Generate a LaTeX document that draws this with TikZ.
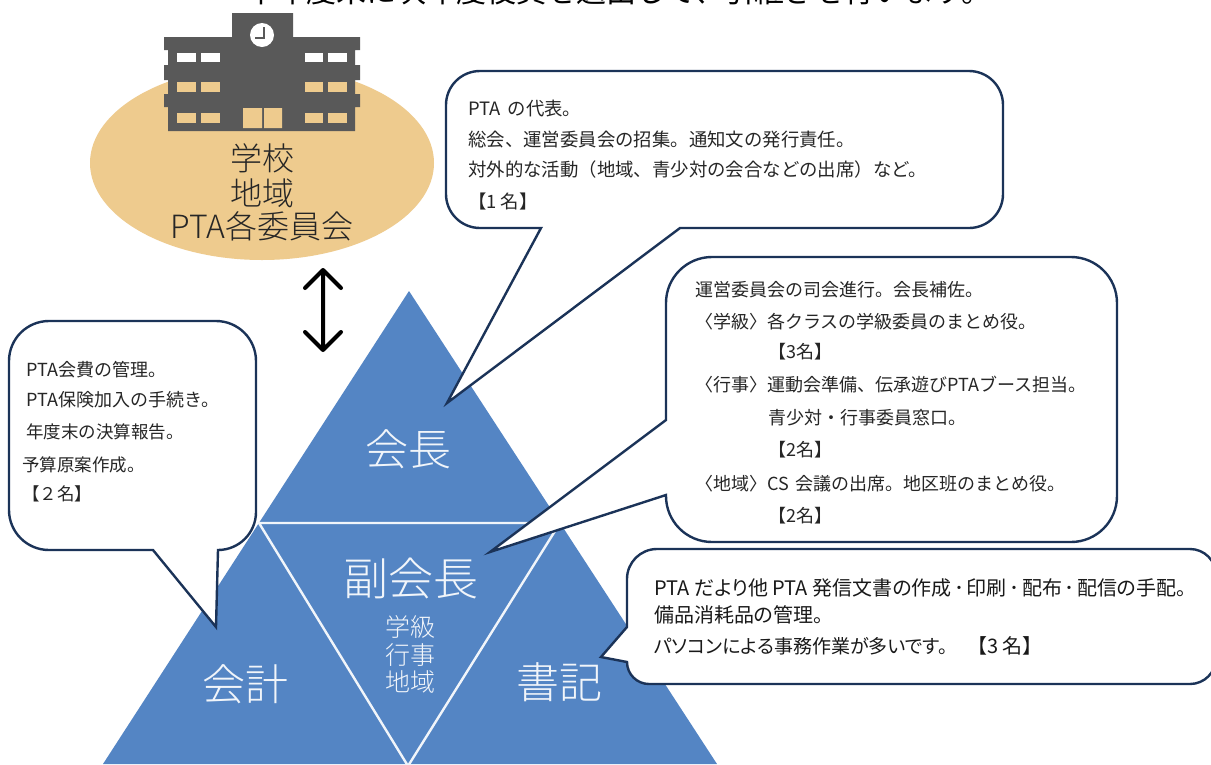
\documentclass[tikz,border=0pt]{standalone}
\usepackage{fontspec}
\usetikzlibrary{shapes.geometric}
\setmainfont{Noto Sans CJK JP}
\newfontfamily\lightcjk{Noto Sans CJK JP}[UprightFont=* Light]
\newfontfamily\paltcjk{Noto Sans CJK JP}[RawFeature=+palt]
\newcommand{\fs}[1]{\fontsize{#1pt}{#1pt}\selectfont}
\newcommand{\middot}{\hspace{2.6pt}･\hspace{2.6pt}}
\definecolor{navy}{HTML}{1B3358}
\definecolor{triblue}{HTML}{5485C4}
\definecolor{tan}{HTML}{EECB8E}
\definecolor{bld}{HTML}{595959}
\tikzset{
  x=1pt,y=-1pt,
  callout/.style={draw=navy,fill=white,line width=2.4pt,line join=miter},
  txt/.style={anchor=west,inner sep=0pt,font=\fs{18},text=black!85},
  sectxt/.style={anchor=west,inner sep=0pt,font=\paltcjk\fs{20},text=black!90},
  rolename/.style={inner sep=0pt,text=white!92!triblue,font=\lightcjk\fs{43}},
  schooltxt/.style={inner sep=0pt,text=black!85,font=\lightcjk\fs{32}},
}
\begin{document}
\begin{tikzpicture}
\useasboundingbox (0,0) rectangle (1211,764);
\clip (0,0) rectangle (1211,764);
\fill[white] (0,0) rectangle (1211,764);
% title
\node[inner sep=0pt,font=\fs{30},text=black] (title) at (604,-9) {・本年度末に次年度役員を選出して、引継ぎを行います。};
% school
\node[ellipse,fill=tan,minimum width=344pt,minimum height=194pt,inner sep=0pt] (school) at (262,163) {};
\fill[bld] (232,13) rectangle (293,37) (164,37) rectangle (360,50) (168,50) rectangle (355,131)
  (164,65) rectangle (360,80) (164,94) rectangle (360,107);
\fill[white] (262,35) circle (12pt);
\draw[bld,line width=1.4pt] (264,27) -- (264,38) -- (255,38);
\foreach \a/\b in {177/196,201/220,305/323,328/347}{
  \fill[white] (\a,53) rectangle (\b,62);
  \fill[tan] (\a,82) rectangle (\b,92);
  \fill[tan] (\a,113) rectangle (\b,123);
}
\fill[tan] (243,108) rectangle (262,128) (264,108) rectangle (282,128);
\node[schooltxt] (s1) at (262,158) {学校};
\node[schooltxt] (s2) at (262,193) {地域};
\node[schooltxt] (s3) at (262,226) {PTA各委員会};
% double arrow
\coordinate (arrowtop) at (323,270);
\coordinate (arrowbot) at (323,350);
\draw[line width=4pt,line cap=round,line join=round,black]
  (arrowtop) -- (arrowbot)
  (arrowtop) ++(-18,18) -- (arrowtop) -- ++(18,18)
  (arrowbot) ++(-18,-18) -- (arrowbot) -- ++(18,-18);
% triangle
\fill[triblue] (409,291) -- (103,764) -- (717,764) -- cycle;
\draw[white!92!triblue,line width=2.4pt] (259,523) -- (560,523) -- (408,766) -- cycle;
\node[rolename] (kaicho) at (408,449) {会長};
\node[rolename,font=\lightcjk\fs{45}] (fuku) at (411,578) {副会長};
\node[rolename,font=\lightcjk\fs{25}] (f1) at (410,627) {学級};
\node[rolename,font=\lightcjk\fs{25}] (f2) at (410,655) {行事};
\node[rolename,font=\lightcjk\fs{25}] (f3) at (410,682) {地域};
\node[rolename] (kaikei) at (245,684) {会計};
\node[rolename] (shoki) at (559,682) {書記};
% callouts (counter-clockwise on the page, from the tail outward)
\draw[callout] (680,228) -- (969,228) arc[start angle=-90,end angle=0,radius=34pt]
  -- (1003,105) arc[start angle=0,end angle=90,radius=34pt]
  -- (480,71) arc[start angle=90,end angle=180,radius=34pt]
  -- (446,194) arc[start angle=180,end angle=270,radius=34pt]
  -- (541,228) -- (447,403) -- cycle;
\draw[callout] (666,495) -- (666,496) arc[start angle=180,end angle=270,radius=46pt]
  -- (1071,542) arc[start angle=-90,end angle=0,radius=46pt]
  -- (1117,303) arc[start angle=0,end angle=90,radius=46pt]
  -- (712,257) arc[start angle=90,end angle=180,radius=46pt]
  -- (666,420) -- (490,552) -- cycle;
\draw[callout] (218,550) arc[start angle=-90,end angle=0,radius=38pt]
  -- (256,361) arc[start angle=0,end angle=90,radius=40pt]
  -- (49,321) arc[start angle=90,end angle=180,radius=40pt]
  -- (9,510) arc[start angle=180,end angle=270,radius=40pt]
  -- (153,550) -- (216,627) -- cycle;
\draw[callout] (627,662) arc[start angle=180,end angle=270,radius=22pt]
  -- (1190,684) arc[start angle=-90,end angle=0,radius=26pt]
  -- (1216,575) arc[start angle=0,end angle=90,radius=26pt]
  -- (657,549) arc[start angle=90,end angle=180,radius=30pt]
  -- (627,627) -- (601,657) -- cycle;
% texts
\node[txt,font=\fs{18.4}] (a1) at (468,109) {PTA\hspace{7pt}の代表。};
\node[txt,font=\fs{18.4}] (a2) at (468,140) {総会、運営委員会の招集。通知文の発行責任。};
\node[txt,font=\fs{18.4}] (a3) at (468,170) {対外的な活動（地域、青少対の会合などの出席）など。};
\node[txt,font=\fs{18.4}] (a4) at (468,202) {【1 名】};
\node[txt] (b1) at (695,290) {運営委員会の司会進行。会長補佐。};
\node[txt] (b2) at (695,322) {〈学級〉各クラスの学級委員のまとめ役。};
\node[txt] (b3) at (768,352) {【3名】};
\node[txt] (b4) at (695,385) {〈行事〉運動会準備、伝承遊びPTAブース担当。};
\node[txt] (b5) at (768,418) {青少対・行事委員窓口。};
\node[txt] (b6) at (768,450) {【2名】};
\node[txt] (b7) at (695,484) {〈地域〉CS\hspace{3pt} 会議の出席。地区班のまとめ役。};
\node[txt] (b8) at (768,516) {【2名】};
\node[txt] (c1) at (26,370) {PTA会費の管理。};
\node[txt] (c2) at (26,400) {PTA保険加入の手続き。};
\node[txt,font=\fs{17.5}] (c3) at (26,432) {年度末の決算報告。};
\node[txt,font=\fs{17.5}] (c4) at (22,465) {予算原案作成。};
\node[txt,font=\fs{17.5}] (c5) at (22,494) {【２名】};
\node[sectxt] (d1) at (654,588) {PTA だより他 PTA 発信文書の作成\middot 印刷\middot 配布\middot 配信の手配。};
\node[sectxt] (d2) at (654,615) {備品消耗品の管理。};
\node[sectxt,font=\paltcjk\fs{19}] (d3) at (654,646) {パソコンによる事務作業が多いです。\hspace{30pt}{\fs{20}【3 名】}};
\end{tikzpicture}
\end{document}
